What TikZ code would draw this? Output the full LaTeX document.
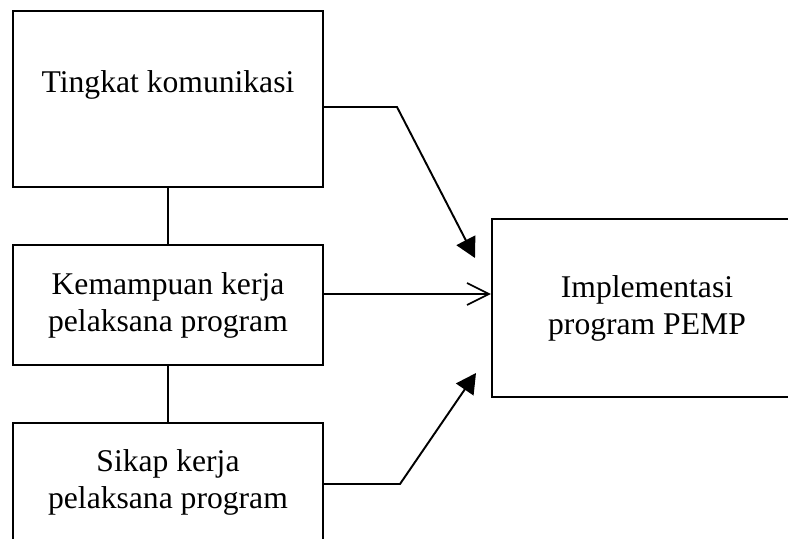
\documentclass[tikz,border=0pt]{standalone}
\usepackage{fontspec}
\setmainfont{Liberation Serif}
\usetikzlibrary{arrows.meta}
\tikzset{
  kotak/.style={draw, line width=1.2pt, align=center, minimum width=6.2cm, inner sep=0pt, font=\fontsize{18}{21}\selectfont},
  garis/.style={line width=0.8pt},
  panah/.style={line width=1.1pt, -{Triangle[length=4mm,width=4.2mm]}},
  panahbuka/.style={line width=1pt, -{Straight Barb[length=4.4mm,width=4.4mm]}},
}
\begin{document}
\begin{tikzpicture}[x=0.02cm, y=-0.02cm]
\useasboundingbox (0,0) rectangle (788,538);
\clip (0,0) rectangle (788,538);

%kotak
\node[kotak, minimum height=3.52cm, text depth=0.7cm] (tingkat) at (168,99) {Tingkat komunikasi};
\node[kotak, minimum height=2.4cm] (kemampuan) at (168,305) {Kemampuan kerja\\pelaksana program};
\node[kotak, minimum height=2.36cm] (sikap) at (168,482) {Sikap kerja\\pelaksana program};
\node[kotak, minimum height=3.56cm] (implementasi) at (647,308) {Implementasi\\program PEMP};

%garis penghubung
\draw[garis] (tingkat) -- (kemampuan);
\draw[garis] (kemampuan) -- (sikap);

%panah
\coordinate (belok1) at (397,107);
\coordinate (ujung1) at (475,258);
\draw[panah] (tingkat.east |- belok1) -- (belok1) -- (ujung1);
\coordinate (tengah) at (0,294);
\draw[panahbuka] (kemampuan.east |- tengah) -- (implementasi.west |- tengah);
\coordinate (belok3) at (400,484);
\coordinate (ujung3) at (476,373);
\draw[panah] (sikap.east |- belok3) -- (belok3) -- (ujung3);

\end{tikzpicture}
\end{document}
